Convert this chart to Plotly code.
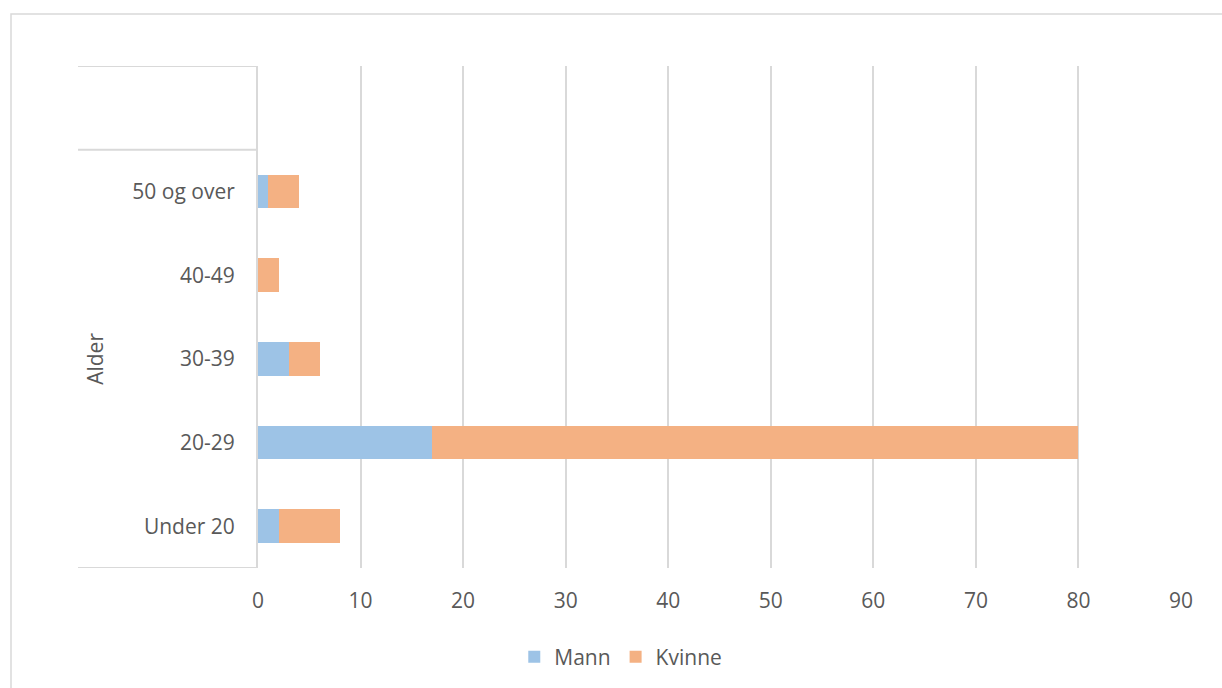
import plotly.graph_objects as go

categories = ["Under 20", "20-29", "30-39", "40-49", "50 og over", " "]
mann = [2, 17, 3, 0, 1, None]
kvinne = [6, 63, 3, 2, 3, None]
x_ticks = [0, 10, 20, 30, 40, 50, 60, 70, 80, 90]
group_label = "Alder"

FONT = "Open Sans, Segoe UI, sans-serif"
TXT = "#595959"
GRID = "#d9d9d9"
FS = 21

fig = go.Figure()
fig.add_trace(go.Bar(y=categories, x=mann, name="Mann", orientation="h",
                     marker=dict(color="#9DC3E6", line=dict(width=0))))
fig.add_trace(go.Bar(y=categories, x=kvinne, name="Kvinne", orientation="h",
                     marker=dict(color="#F4B183", line=dict(width=0))))

W, H = 1222, 688
L, R, T, B = 258, 1181, 66, 568
pw, ph = R - L, B - T

fig.update_layout(
    width=W, height=H,
    barmode="stack", bargap=0.6,
    margin=dict(l=L, r=W - R, t=T, b=H - B, pad=0),
    paper_bgcolor="white", plot_bgcolor="white",
    font=dict(family=FONT, size=FS, color=TXT),
    showlegend=True,
    legend=dict(orientation="h", xref="container", yref="container",
                x=0.508, xanchor="center", y=1 - 657 / H, yanchor="middle",
                font=dict(size=FS, color=TXT), traceorder="normal",
                itemwidth=30),
    xaxis=dict(range=[0, 90], tickvals=x_ticks, showgrid=True, gridcolor=GRID,
               gridwidth=1.5, zeroline=False, showline=False,
               ticks="", ticklabelstandoff=18, fixedrange=True),
    yaxis=dict(type="category", categoryorder="array", categoryarray=categories,
               range=[-0.5, 5.5], showgrid=False, zeroline=False,
               showline=True, linecolor=GRID, linewidth=2,
               ticks="", ticklabelstandoff=17),
)

shapes = []
x_left = (78 - L) / pw
for yv in [5.5, 4.5, -0.5]:
    shapes.append(dict(type="line", xref="paper", yref="y", x0=x_left, x1=0,
                       y0=yv, y1=yv, line=dict(color=GRID, width=2)))
# outer chart frame
shapes.append(dict(type="rect", xref="paper", yref="paper",
                   x0=(11 - L) / pw, x1=(1240 - L) / pw,
                   y0=(B - 700) / ph, y1=(B - 14) / ph,
                   line=dict(color=GRID, width=1.5), fillcolor="rgba(0,0,0,0)",
                   layer="below"))
fig.update_layout(shapes=shapes)

fig.add_annotation(text=group_label, xref="paper", yref="y",
                   x=(95 - L) / pw, y=2, textangle=-90, showarrow=False,
                   font=dict(size=FS, color=TXT), xanchor="center", yanchor="middle")

fig.write_html("out.html")
